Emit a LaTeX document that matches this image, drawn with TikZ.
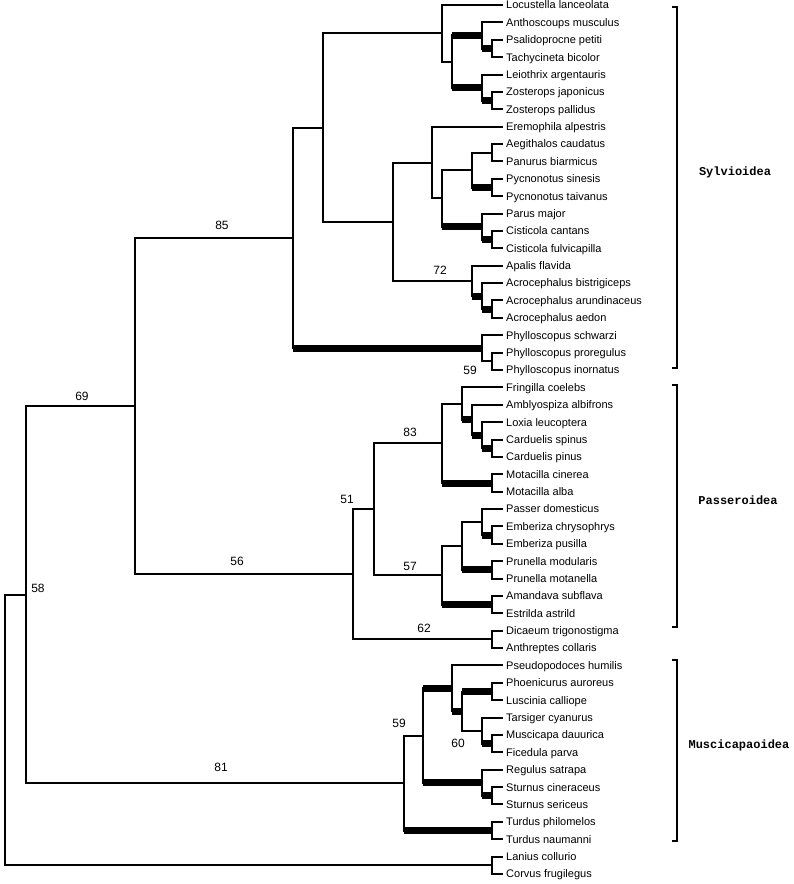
\documentclass[tikz,border=0pt]{standalone}
\usepackage{fontspec}
\setmainfont{Liberation Sans}
\newfontfamily\cladefont{Liberation Mono}

\begin{document}
\begin{tikzpicture}[x=1pt,y=-1pt]
    \tikzstyle{branch}=[line width=2pt, line cap=rect]
    \tikzstyle{strongbranch}=[line width=7pt]
    \tikzstyle{leaf}=[anchor=west, inner xsep=4pt, inner ysep=0pt, text height=7.8pt, text depth=0pt, font=\fontsize{11}{11}\selectfont]
    \tikzstyle{boot}=[inner sep=0pt, font=\fontsize{12}{12}\selectfont]
    \tikzstyle{bracket}=[line width=1.4pt]
    \tikzstyle{cladelabel}=[inner sep=0pt, font=\cladefont\bfseries\fontsize{12}{12}\selectfont]

    \useasboundingbox (0,0) rectangle (793,884);

    % Taxa
    \foreach \name [count=\i from 0] in {Locustella lanceolata, Anthoscoups musculus,
        Psalidoprocne petiti, Tachycineta bicolor, Leiothrix argentauris,
        Zosterops japonicus, Zosterops pallidus, Eremophila alpestris,
        Aegithalos caudatus, Panurus biarmicus, Pycnonotus sinesis,
        Pycnonotus taivanus, Parus major, Cisticola cantans, Cisticola fulvicapilla,
        Apalis flavida, Acrocephalus bistrigiceps, Acrocephalus arundinaceus,
        Acrocephalus aedon, Phylloscopus schwarzi, Phylloscopus proregulus,
        Phylloscopus inornatus, Fringilla coelebs, Amblyospiza albifrons,
        Loxia leucoptera, Carduelis spinus, Carduelis pinus, Motacilla cinerea,
        Motacilla alba, Passer domesticus, Emberiza chrysophrys, Emberiza pusilla,
        Prunella modularis, Prunella motanella, Amandava subflava, Estrilda astrild,
        Dicaeum trigonostigma, Anthreptes collaris, Pseudopodoces humilis,
        Phoenicurus auroreus, Luscinia calliope, Tarsiger cyanurus,
        Muscicapa dauurica, Ficedula parva, Regulus satrapa, Sturnus cineraceus,
        Sturnus sericeus, Turdus philomelos, Turdus naumanni, Lanius collurio,
        Corvus frugilegus}
        \node[leaf] (L\i) at (502,{5+17.38*\i}) {\name};

    % Sylvioidea nodes
    \coordinate (s492a) at (492,48.5);
    \coordinate (s482a) at (482,35.4);
    \coordinate (s492b) at (492,100.6);
    \coordinate (s482b) at (482,87.6);
    \coordinate (s452) at (452,61.5);
    \coordinate (s442) at (442,33.2);
    \coordinate (s492c) at (492,152.7);
    \coordinate (s492d) at (492,187.5);
    \coordinate (s472a) at (472,170.1);
    \coordinate (s492e) at (492,239.6);
    \coordinate (s482c) at (482,226.6);
    \coordinate (s442b) at (442,198.4);
    \coordinate (s432) at (432,162.5);
    \coordinate (s492f) at (492,309.2);
    \coordinate (s482d) at (482,296.1);
    \coordinate (s472b) at (472,280.9);
    \coordinate (s393) at (393,221.7);
    \coordinate (s323) at (323,127.5);
    \coordinate (s492g) at (492,361.3);
    \coordinate (s482e) at (482,348.2);
    \coordinate (s293) at (293,237.9);

    % Passeroidea nodes
    \coordinate (p492a) at (492,448.2);
    \coordinate (p482a) at (482,435.2);
    \coordinate (p472) at (472,419.9);
    \coordinate (p462) at (462,403.7);
    \coordinate (p492b) at (492,483.0);
    \coordinate (p442a) at (442,443.3);
    \coordinate (p492c) at (492,535.1);
    \coordinate (p482b) at (482,522.1);
    \coordinate (p492d) at (492,569.9);
    \coordinate (p462b) at (462,546.0);
    \coordinate (p492e) at (492,604.6);
    \coordinate (p442b) at (442,575.3);
    \coordinate (p374) at (374,509.3);
    \coordinate (p492f) at (492,639.4);
    \coordinate (p353) at (353,574.3);

    % Muscicapaoidea nodes
    \coordinate (m492a) at (492,691.5);
    \coordinate (m492b) at (492,743.7);
    \coordinate (m482a) at (482,730.6);
    \coordinate (m462) at (462,711.1);
    \coordinate (m452) at (452,688.3);
    \coordinate (m492c) at (492,795.8);
    \coordinate (m482b) at (482,782.8);
    \coordinate (m423) at (423,735.5);
    \coordinate (m492d) at (492,830.6);
    \coordinate (m404) at (404,783.0);

    % Deep nodes and outgroup
    \coordinate (o492) at (492,865.3);
    \coordinate (n135) at (135,406.1);
    \coordinate (n26) at (26,594.6);
    \coordinate (root) at (5,730.0);

    % Thin branches
    \foreach \p/\c in {root/n26, root/o492, n26/n135, n26/m404, n135/s293, n135/p353,
        o492/L49.west, o492/L50.west,
        s293/s323, s323/s442, s323/s393, s442/L0.west, s442/s452,
        s482a/L1.west, s492a/L2.west, s492a/L3.west,
        s482b/L4.west, s492b/L5.west, s492b/L6.west,
        s393/s432, s393/s472b, s432/L7.west, s432/s442b, s442b/s472a,
        s472a/s492c, s492c/L8.west, s492c/L9.west, s492d/L10.west, s492d/L11.west,
        s482c/L12.west, s492e/L13.west, s492e/L14.west,
        s472b/L15.west, s482d/L16.west, s492f/L17.west, s492f/L18.west,
        s482e/L19.west, s482e/s492g, s492g/L20.west, s492g/L21.west,
        p353/p374, p353/p492f, p374/p442a, p374/p442b, p442a/p462,
        p462/L22.west, p472/L23.west, p482a/L24.west,
        p492a/L25.west, p492a/L26.west, p492b/L27.west, p492b/L28.west,
        p442b/p462b, p462b/p482b, p482b/L29.west, p492c/L30.west, p492c/L31.west,
        p492d/L32.west, p492d/L33.west, p492e/L34.west, p492e/L35.west,
        p492f/L36.west, p492f/L37.west,
        m404/m423, m452/L38.west, m462/m482a, m492a/L39.west, m492a/L40.west,
        m482a/L41.west, m492b/L42.west, m492b/L43.west,
        m482b/L44.west, m492c/L45.west, m492c/L46.west,
        m492d/L47.west, m492d/L48.west}
        \draw[branch] (\p) |- (\c);

    % Heavy branches
    \foreach \p/\c in {s452/s482a, s482a/s492a, s452/s482b, s482b/s492b,
        s472a/s492d, s442b/s482c, s482c/s492e, s472b/s482d, s482d/s492f,
        s293/s482e,
        p442a/p492b, p462/p472, p472/p482a, p482a/p492a,
        p442b/p492e, p462b/p492d, p482b/p492c,
        m404/m492d, m423/m452, m423/m482b, m452/m462, m462/m492a,
        m482a/m492b, m482b/m492c} {
        \draw[branch] (\p) -- (\p |- \c);
        \draw[strongbranch] (\p |- \c) -- (\c);
    }

    % Bootstrap values
    \node[boot] (b85) at (222,225) {85};
    \node[boot] (b69) at (82,396) {69};
    \node[boot] (b72) at (440,270) {72};
    \node[boot] (b59a) at (470,370) {59};
    \node[boot] (b83) at (410,432) {83};
    \node[boot] (b51) at (347,499) {51};
    \node[boot] (b57) at (410,566) {57};
    \node[boot] (b56) at (237,561) {56};
    \node[boot] (b62) at (424,628) {62};
    \node[boot] (b58) at (38,588) {58};
    \node[boot] (b81) at (221,767) {81};
    \node[boot] (b59b) at (399,723) {59};
    \node[boot] (b60) at (458,743) {60};

    % Superfamily brackets
    \coordinate (sylTop) at (672,7);
    \coordinate (sylBot) at (672,368);
    \coordinate (pasTop) at (672,385);
    \coordinate (pasBot) at (672,627);
    \coordinate (musTop) at (672,660);
    \coordinate (musBot) at (672,841);
    \draw[bracket] (sylTop) -- ++(5,0) |- (sylBot);
    \draw[bracket] (pasTop) -- ++(5,0) |- (pasBot);
    \draw[bracket] (musTop) -- ++(5,0) |- (musBot);
    \node[cladelabel] (sylvioidea) at (735,172) {Sylvioidea};
    \node[cladelabel] (passeroidea) at (738,500) {Passeroidea};
    \node[cladelabel] (muscicapaoidea) at (739,745) {Muscicapaoidea};
\end{tikzpicture}
\end{document}
